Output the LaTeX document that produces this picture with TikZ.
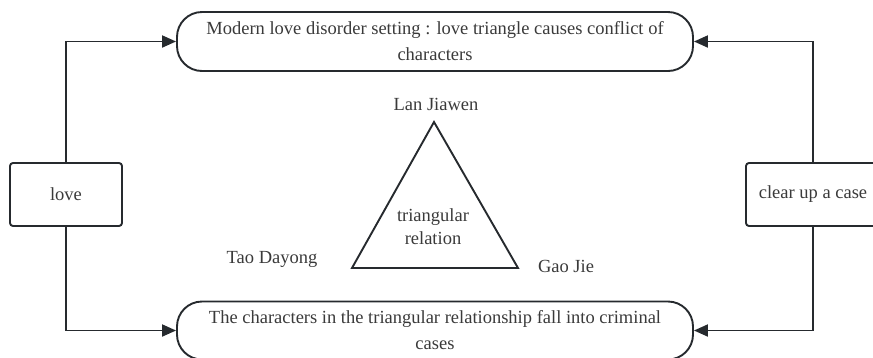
\documentclass[tikz,border=0pt]{standalone}
\usepackage{fontspec}
\setmainfont{Liberation Serif}
\usetikzlibrary{arrows.meta}
\definecolor{lin}{HTML}{262A2E}
\definecolor{txt}{HTML}{3A3A3A}
\begin{document}
\begin{tikzpicture}[x=1pt,y=-1pt,
  every node/.style={text=txt,font=\rmfamily\fontsize{18.5}{26}\selectfont},
  bigbox/.style={draw=lin,line width=1.9pt,rounded corners=25pt,minimum width=516pt,minimum height=59pt,align=center,inner sep=0pt},
  smallbox/.style={draw=lin,line width=1.9pt,rounded corners=3pt,minimum height=63pt,inner sep=0pt},
  conn/.style={draw=lin,line width=1.9pt,-{Triangle[length=14pt,width=12pt]}},
  lab/.style={inner sep=0pt}]
\useasboundingbox (0,0) rectangle (873,357);
\node[bigbox] (top) at (435,41.5) {Modern love disorder setting : love triangle causes conflict of\\characters};
\node[bigbox,minimum height=58pt] (bot) at (435,330.5) {The characters in the triangular relationship fall into criminal\\cases};
\node[smallbox,minimum width=112pt] (love) at (66,194.5) {love};
\node[smallbox,minimum width=134pt] (case) at (813,194.5) {clear up a case};
\draw[conn] (love.north) |- (top.west);
\draw[conn] (love.south) |- (bot.west);
\draw[conn] (case.north) |- (top.east);
\draw[conn] (case.south) |- (bot.east);
\coordinate (A) at (434,122);
\coordinate (B) at (352,268);
\coordinate (C) at (518,268);
\draw[lin,line width=1.9pt,line join=miter] (A) -- (B) -- (C) -- cycle;
\node[lab] (lan) at (436,104) {Lan Jiawen};
\node[lab] (tao) at (272,259) {Tao Dayong};
\node[lab] (gao) at (566,266) {Gao Jie};
\node[lab,align=center,font=\rmfamily\fontsize{18.5}{23}\selectfont] (rel) at (433,227) {triangular\\relation};
\end{tikzpicture}
\end{document}
